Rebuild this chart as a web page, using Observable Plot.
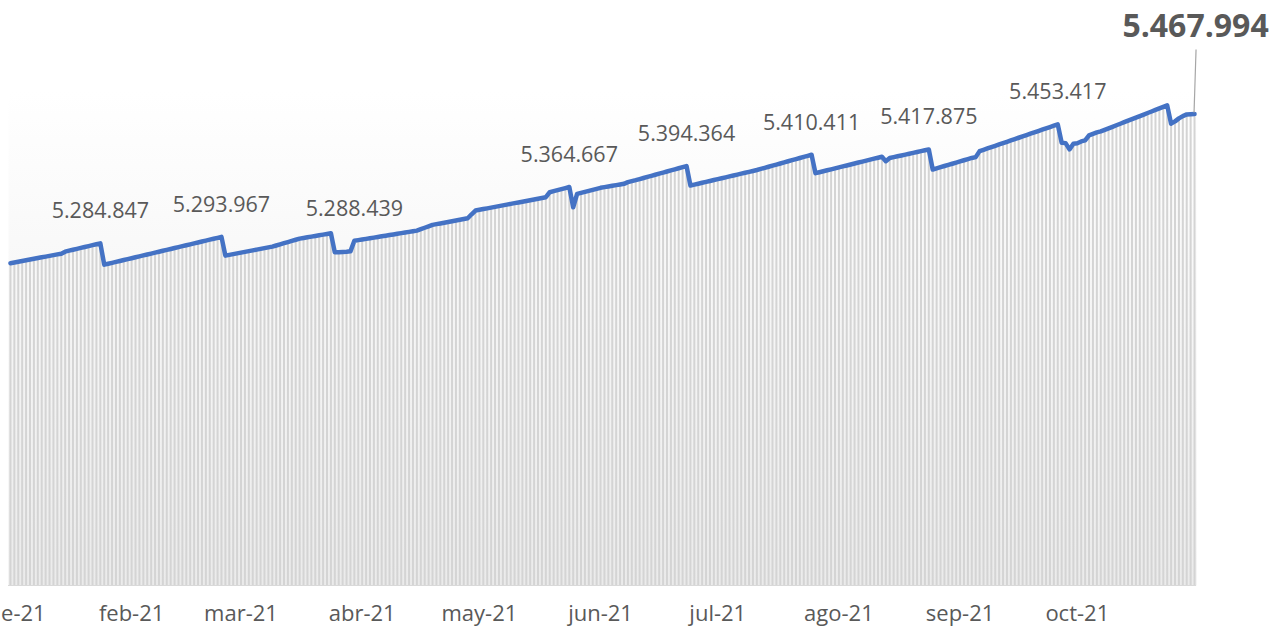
<!DOCTYPE html>
<html><head><meta charset="utf-8">
<script src="https://cdn.jsdelivr.net/npm/d3@7"></script>
<script src="https://cdn.jsdelivr.net/npm/@observablehq/plot@0.6"></script>
<style>html,body{margin:0;padding:0;background:#fff;overflow:hidden}</style>
</head><body><div id="chart"></div>
<script>
// Daily values, 2021 (one array per month)
const jan = [5256700,5257740,5258780,5259820,5260860,5261900,5262940,5263980,5265020,5266060,5267100,5268140,5269180,5270200,5273060,5274480,5275780,5277070,5278370,5279660,5280960,5282260,5283550,5284847,5254600,5255910,5257220,5258540,5259850,5261160,5262470];
const feb = [5263780,5265090,5266400,5267720,5269030,5270340,5271650,5272960,5274280,5275590,5276900,5278210,5279530,5280840,5282150,5283460,5284780,5286090,5287400,5288710,5290030,5291340,5292650,5293967,5267380,5268450,5269510,5270580];
const mar = [5271640,5272710,5273770,5274840,5275900,5276970,5278030,5279100,5280160,5281780,5283410,5285030,5286650,5288270,5289900,5291520,5292460,5293400,5294340,5295290,5296230,5297170,5298110,5299050,5272070,5272350,5272640,5272920,5273490,5288439,5289360];
const apr = [5290260,5291160,5292060,5292970,5293870,5294770,5295670,5296570,5297470,5298380,5299280,5300180,5301080,5301980,5302880,5304900,5306930,5308950,5310975,5312020,5313060,5314100,5315140,5316180,5317220,5318260,5319300,5320347,5326000,5331300];
const may = [5332350,5333400,5334440,5335490,5336540,5337590,5338640,5339680,5340730,5341780,5342830,5343880,5344920,5345970,5347020,5348070,5349120,5350170,5357270,5358750,5360230,5361710,5363190,5364667,5335967,5354995,5356420,5357840,5359260,5360680,5362100];
const jun = [5363515,5364460,5365410,5366360,5367300,5368250,5369195,5371540,5373000,5374400,5375940,5377470,5379010,5380540,5382080,5383620,5385150,5386690,5388220,5389760,5391300,5392830,5394364,5366781,5368070,5369360,5370650,5371940,5373230,5374520];
const jul = [5375810,5377100,5378390,5379680,5380970,5382270,5383560,5384850,5386140,5387430,5388720,5390270,5391820,5393370,5394920,5396470,5398020,5399570,5401120,5402670,5404210,5405760,5407310,5408860,5410411,5384247,5385620,5386990,5388360,5389740,5391110];
const aug = [5392480,5393850,5395220,5396600,5397970,5399340,5400710,5402080,5403460,5404830,5406200,5407570,5401287,5405830,5407000,5408200,5409380,5410590,5411800,5413020,5414230,5415450,5416660,5417875,5389501,5391130,5392770,5394400,5396030,5397660,5399290];
const sep = [5400920,5402560,5404190,5405820,5407000,5415487,5417380,5419280,5421180,5423080,5424970,5426870,5428770,5430660,5432560,5434460,5436350,5438250,5440150,5442040,5443940,5445840,5447730,5449630,5451520,5453417,5427415,5426847,5417901,5425995];
const oct = [5426700,5429261,5430681,5437781,5439911,5442041,5443461,5445630,5447800,5449970,5452150,5454320,5456490,5458660,5460830,5463000,5465180,5467350,5469520,5471690,5473860,5476040,5478210,5480380,5454395,5457661,5461921,5465187,5467500,5467900,5467994];

// Axis tick labels (first day of each month)
const tickMonths = ["2021-01-01","2021-02-01","2021-03-01","2021-04-01","2021-05-01","2021-06-01","2021-07-01","2021-08-01","2021-09-01","2021-10-01"];
const tickLabels = ["ene-21","feb-21","mar-21","abr-21","may-21","jun-21","jul-21","ago-21","sep-21","oct-21"];

// Data labels
const labelDates = ["2021-01-24","2021-02-24","2021-03-30","2021-05-24","2021-06-23","2021-07-25","2021-08-24","2021-09-26"];
const labelValues = [5284847,5293967,5288439,5364667,5394364,5410411,5417875,5453417];
const finalDate = "2021-10-31";
const finalValue = 5467994;

const DAY = 864e5;
const start = Date.UTC(2021, 0, 1);
const values = [...jan, ...feb, ...mar, ...apr, ...may, ...jun, ...jul, ...aug, ...sep, ...oct];
const series = values.map((v, i) => ({date: new Date(start + i * DAY), value: v}));
const labels = labelDates.map((d, i) => ({date: new Date(d), value: labelValues[i]}));
const ticks = tickMonths.map((d, i) => ({date: new Date(d), label: tickLabels[i]}));
const finalPt = [{date: new Date(finalDate), value: finalValue}];
const fmt = d3.formatLocale({decimal: ",", thousands: ".", grouping: [3], currency: ["", ""]}).format(",d");
const NS = "http://www.w3.org/2000/svg";

function leader(index, scales) {
  const x = scales.x(new Date(finalDate)), y = scales.y(finalValue);
  const l = document.createElementNS(NS, "line");
  l.setAttribute("x1", x); l.setAttribute("y1", y - 1);
  l.setAttribute("x2", x + 2); l.setAttribute("y2", y - 64);
  l.setAttribute("stroke", "#a6a6a6"); l.setAttribute("stroke-width", 1.2);
  return l;
}

const plot = Plot.plot({
  width: 1274, height: 631,
  marginTop: 91, marginBottom: 46, marginLeft: 8, marginRight: 78,
  style: {fontFamily: "'Open Sans', sans-serif", background: "#fff", overflow: "visible"},
  x: {type: "utc", domain: [new Date(start - DAY / 2), new Date(start + 303 * DAY + DAY / 2)], axis: null},
  y: {domain: [4800000, 5500000], axis: null},
  marks: [
    Plot.frame({fill: "url(#bgGrad)", stroke: null}),
    Plot.ruleX(series, {x: "date", y1: 4800000, y2: "value", stroke: "#d4d4d4", strokeWidth: 2}),
    Plot.ruleY([4800000], {stroke: "#d9d9d9", strokeWidth: 1}),
    Plot.line(series, {x: "date", y: "value", stroke: "#4472C4", strokeWidth: 4.5, strokeLinejoin: "round", strokeLinecap: "round"}),
    Plot.text(labels, {x: "date", y: "value", text: d => fmt(d.value), dy: -32, fontSize: 21.5, fill: "#595959"}),
    leader,
    Plot.text(finalPt, {x: "date", y: "value", text: d => fmt(d.value), dy: -87, dx: 1, fontSize: 32, fontWeight: "bold", fill: "#595959"}),
    Plot.text(ticks, {x: "date", text: "label", frameAnchor: "bottom", dy: 35, fontSize: 22, fill: "#595959"})
  ]
});
const defs = document.createElementNS(NS, "defs");
defs.innerHTML = '<linearGradient id="bgGrad" x1="0" y1="0" x2="0" y2="1"><stop offset="0" stop-color="#ffffff"/><stop offset="1" stop-color="#ebebeb"/></linearGradient>';
plot.insertBefore(defs, plot.firstChild);
document.getElementById("chart").appendChild(plot);
</script>
</body></html>
